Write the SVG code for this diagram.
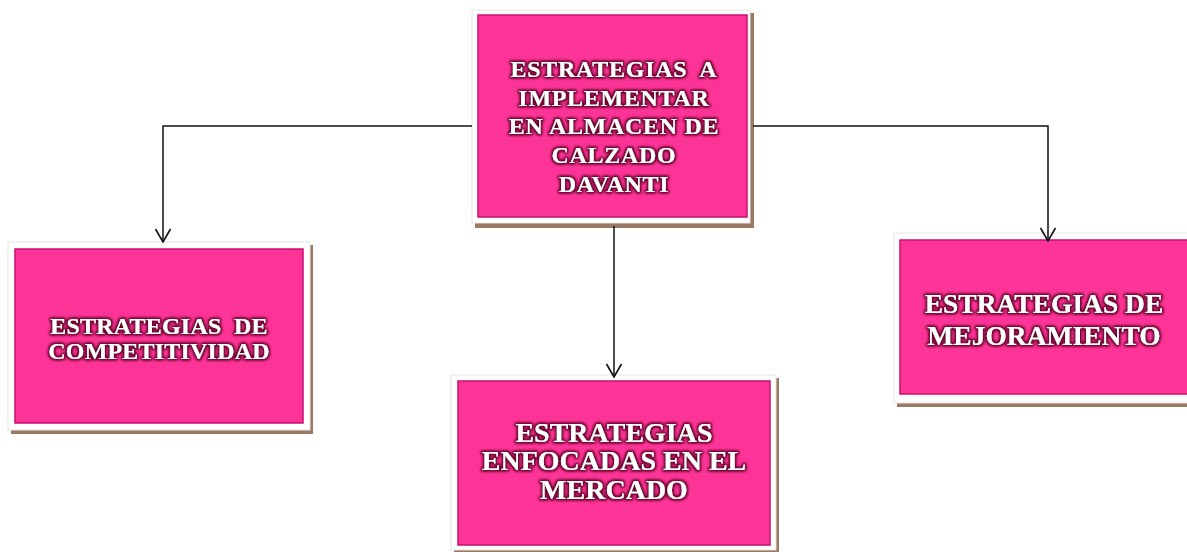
<svg xmlns="http://www.w3.org/2000/svg" width="1187" height="552" viewBox="0 0 1187 552">
<style>
.shadow{fill:#9a7862}
.frame{fill:#ffffff;stroke:#e4e4e4;stroke-width:1}
.box{fill:#fd3497;stroke:#c90f72;stroke-width:1.5}
.t{font-family:"Liberation Serif","Times New Roman",serif;font-weight:bold;fill:#ffffff;text-anchor:middle;filter:url(#glow);white-space:pre}
.conn{fill:none;stroke:#111;stroke-width:1.5}
</style>
<defs>
<filter id="glow" x="-10%" y="-30%" width="120%" height="160%">
<feMorphology in="SourceAlpha" operator="dilate" radius="1.2" result="d"/>
<feGaussianBlur in="d" stdDeviation="1.5" result="b"/>
<feFlood flood-color="#6a0030"/>
<feComposite in2="b" operator="in" result="s"/>
<feMerge><feMergeNode in="s"/><feMergeNode in="s"/><feMergeNode in="SourceGraphic"/></feMerge>
</filter>
<marker id="arr" viewBox="-1 -9 15 18" refX="13" refY="0" markerWidth="15" markerHeight="18" markerUnits="userSpaceOnUse" orient="auto">
<path d="M0,-7.5 L13,0 L0,7.5" fill="none" stroke="#111" stroke-width="1.6"/>
</marker>
</defs>
<g id="top">
<rect class="shadow" x="475" y="13" width="279" height="215"/>
<rect class="frame" x="472" y="10" width="278" height="213"/>
<rect class="box" x="478" y="15" width="269" height="202"/>
<text class="t" font-size="24" letter-spacing="0.7" xml:space="preserve"><tspan x="614" y="77">ESTRATEGIAS  A</tspan><tspan x="614" y="106">IMPLEMENTAR</tspan><tspan x="614" y="134">EN ALMACEN DE</tspan><tspan x="614" y="163">CALZADO</tspan><tspan x="614" y="192">DAVANTI</tspan></text>
</g>
<g id="competitividad">
<rect class="shadow" x="11" y="245" width="302" height="189"/>
<rect class="frame" x="8" y="242" width="302" height="188"/>
<rect class="box" x="15" y="249" width="288" height="174"/>
<text class="t" font-size="24" letter-spacing="0.2" xml:space="preserve"><tspan x="159" y="334">ESTRATEGIAS  DE</tspan><tspan x="159" y="359">COMPETITIVIDAD</tspan></text>
</g>
<g id="mercado">
<rect class="shadow" x="454" y="378" width="325" height="176"/>
<rect class="frame" x="451" y="375" width="325" height="175"/>
<rect class="box" x="458" y="381" width="312" height="164"/>
<text class="t" font-size="28"><tspan x="614" y="442">ESTRATEGIAS</tspan><tspan x="614" y="470">ENFOCADAS EN EL</tspan><tspan x="614" y="499">MERCADO</tspan></text>
</g>
<g id="mejoramiento">
<rect class="shadow" x="897" y="237" width="310" height="170"/>
<rect class="frame" x="894" y="233" width="310" height="170"/>
<rect class="box" x="900" y="240" width="300" height="154"/>
<text class="t" font-size="27.5"><tspan x="1044" y="313">ESTRATEGIAS DE</tspan><tspan x="1044" y="345">MEJORAMIENTO</tspan></text>
</g>
<g id="connectors">
<path class="conn" d="M472,126 H163 V242" marker-end="url(#arr)"/>
<path class="conn" d="M753,126 H1048 V241" marker-end="url(#arr)"/>
<path class="conn" d="M614,226 V377" marker-end="url(#arr)"/>
</g>
</svg>
